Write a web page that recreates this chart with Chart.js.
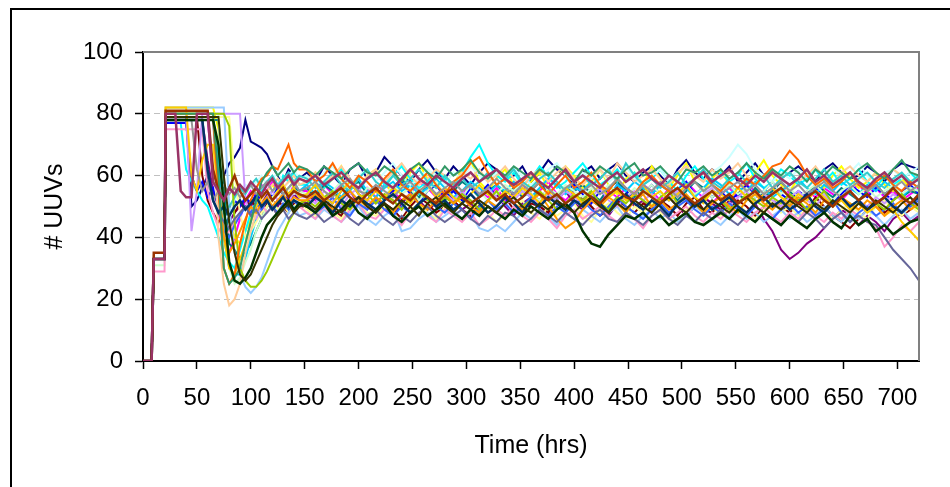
<!DOCTYPE html>
<html>
<head>
<meta charset="utf-8">
<title># UUVs over time</title>
<script src="https://cdn.jsdelivr.net/npm/chart.js@4.4.0/dist/chart.umd.min.js"></script>
<style>
  html, body { margin: 0; padding: 0; background: #fff; }
  #chart { display: block; }
</style>
</head>
<body>
<canvas id="chart" width="950" height="487"></canvas>
<script>
// sample times (hrs)
const hours = [
  0, 8, 9, 10, 20, 21, 25, 30, 35, 40, 45, 50, 55, 60, 65, 70, 75, 80, 85, 90, 95,
  100, 105, 110, 115, 120, 125, 130, 135, 140, 145,
  152, 160, 168, 176, 184, 192, 200, 208, 216, 224, 232, 240, 248, 256, 264, 272,
  280, 288, 296, 304, 312, 320, 328, 336, 344, 352, 360, 368, 376, 384, 392, 400,
  408, 416, 424, 432, 440, 448, 456, 464, 472, 480, 488, 496, 504, 512, 520, 528,
  536, 544, 552, 560, 568, 576, 584, 592, 600, 608, 616, 624, 632, 640, 648, 656,
  664, 672, 680, 688, 696, 704, 712, 720
];

const xTicks = [0, 50, 100, 150, 200, 250, 300, 350, 400, 450, 500, 550, 600, 650, 700];
const yTicks = [0, 20, 40, 60, 80, 100];

// one array per simulation run
const run01 = [0,0,17,33,33,79,79,79,79,79,50,52,56,60,58,62,60,64,66,69,78,71,70,69,67,63,60,58,62,60,59,
  61,58,63,60,57,62,64,59, 61,66,63,60,58,62,65,61, 59,63,60,57,61,64,62,59, 60,63,58,61,65,62,60,57,
  61,63,59,62,64,60,58,61, 63,60,57,62,65,61,59,62, 60,63,58,61,64,60,62,59, 61,63,60,58,62,64,61,59,
  60,63,61,58,62,64,63,62];
const run02 = [0,0,17,33,33,78,78,78,78,78,78,78,78,78,60,48,40,35,40,46,52,55,53,57,55,58,54,56,53,57,55,
  55,52,57,54,58,55,51,56, 53,57,55,52,54,58,56,53, 55,51,54,57,55,53,56,52, 54,57,53,55,58,54,52,55,
  57,54,51,55,53,56,54,57, 55,52,56,54,58,55,53,51, 54,56,53,57,55,52,55,58, 54,51,55,53,56,54,52,55,
  57,54,56,53,55,52,54,56];
const run03 = [0,0,17,33,33,82,82,82,82,82,82,82,82,82,82,75,55,45,40,38,42,46,50,53,55,57,54,58,60,56,59,
  58,61,56,59,63,57,55,60, 62,58,54,57,61,64,59,56, 60,57,62,65,58,55,59,62, 57,54,58,61,56,59,63,60,
  56,58,62,57,54,59,61,57, 63,59,56,60,64,58,55,59, 62,57,54,58,61,65,60,57, 55,59,62,58,56,60,63,59,
  56,58,61,57,55,59,56,54];
const run04 = [0,0,17,33,33,77,77,77,77,62,58,55,52,50,45,40,35,32,30,36,42,48,52,55,57,59,56,60,58,61,57,
  57,60,56,59,62,58,55,59, 61,57,60,63,59,56,58,62, 59,57,61,66,70,64,60,58, 61,57,59,63,60,56,58,61,
  64,60,57,59,62,58,61,57, 59,62,58,55,60,63,59,57, 61,58,60,64,59,56,58,62, 60,57,59,62,58,61,57,59,
  62,58,56,60,57,59,61,58];
const run05 = [0,0,17,33,33,78,78,78,78,78,78,78,78,65,55,50,47,45,48,50,52,50,53,51,54,52,50,53,51,54,52,
  51,54,50,48,52,55,51,49, 53,50,47,51,54,52,49,51, 55,52,49,51,48,52,54,50, 47,51,53,50,48,52,55,51,
  49,52,50,47,51,54,50,52, 48,51,53,50,47,50,53,51, 49,52,50,48,51,46,42,36, 33,35,38,40,43,46,49,47,
  44,47,45,42,46,48,45,47];
const run06 = [0,0,17,33,33,79,79,79,79,79,79,79,60,52,48,45,47,50,48,51,49,52,50,48,51,49,52,50,48,51,50,
  50,48,52,49,47,51,53,50, 48,51,49,46,50,53,51,48, 50,52,49,47,51,48,50,53, 49,47,51,50,48,52,49,51,
  53,50,47,49,52,50,48,51, 49,52,50,47,51,53,49,48, 51,49,52,50,47,49,52,50, 48,51,49,53,50,47,45,43,
  46,49,51,48,50,47,49,51];
const run07 = [0,0,17,33,33,78,78,78,78,78,78,78,78,78,78,78,55,38,36,33,35,38,42,46,50,53,55,57,54,56,55,
  56,53,57,55,52,56,58,54, 55,52,56,59,55,53,57,54, 52,55,58,56,53,55,57,54, 56,53,55,58,54,52,56,55,
  57,54,52,56,58,55,53,56, 54,57,55,52,55,58,56,53, 55,57,54,52,56,53,55,58, 55,52,54,57,55,53,56,54,
  52,55,57,54,56,53,55,54];
const run08 = [0,0,17,33,33,77,77,77,77,77,60,55,58,53,56,50,45,48,52,50,53,51,54,52,55,53,56,54,52,55,53,
  54,57,53,51,55,58,54,52, 56,53,55,58,54,51,55,57, 53,55,52,56,54,57,53,51, 55,58,54,52,56,53,55,57,
  54,51,55,53,57,55,52,54, 57,54,52,55,58,54,56,53, 55,52,54,57,53,55,58,54, 52,55,53,56,54,51,54,57,
  55,53,56,54,52,55,57,54];
const run09 = [0,0,17,33,33,78,78,78,78,78,78,78,78,78,78,65,40,30,28,28,33,40,46,50,53,55,57,54,56,58,55,
  57,54,58,56,53,57,59,55, 53,56,58,55,57,54,56,59, 56,53,55,58,56,54,57,55, 58,55,53,56,59,57,54,56,
  55,58,56,53,57,55,58,56, 54,57,55,58,56,53,56,59, 57,54,56,55,58,56,53,55, 57,59,56,54,57,55,58,56,
  54,57,55,58,56,53,56,55];
const run10 = [0,0,17,33,33,80,80,80,80,80,80,80,80,80,60,50,45,48,52,55,57,56,58,60,57,59,61,58,60,62,59,
  60,58,61,63,59,57,60,62, 58,61,64,60,57,59,62,60, 57,61,59,63,60,58,61,59, 62,60,57,59,62,64,60,58,
  61,59,62,58,60,63,59,57, 60,62,58,61,63,60,58,61, 63,66,70,67,62,60,58,61, 59,62,60,57,60,63,59,61,
  64,60,58,61,62,59,61,63];
const run11 = [0,0,17,31,31,80,80,80,80,80,80,80,80,80,80,80,45,30,25,27,32,36,42,46,50,53,55,52,56,54,55,
  54,57,53,55,58,55,52,56, 55,53,57,54,56,52,55,58, 54,56,53,57,55,52,54,57, 55,58,54,52,56,54,57,55,
  53,56,54,57,55,53,56,54, 57,54,52,55,57,54,56,53, 55,57,54,56,53,55,58,54, 56,53,55,57,54,52,55,57,
  54,56,53,55,57,54,56,55];
const run12 = [0,0,17,33,33,79,79,79,79,79,79,79,79,79,79,79,79,79,60,48,40,42,45,48,50,52,49,51,48,50,52,
  49,47,51,48,46,50,52,48, 47,50,48,45,49,51,48,46, 50,48,46,49,51,48,45,47, 49,52,48,46,50,47,49,51,
  47,45,49,51,48,46,50,48, 51,48,46,45,49,51,48,50, 47,49,51,48,46,49,52,48, 50,47,49,52,48,46,49,51,
  48,46,50,52,49,47,50,48];
const run13 = [0,0,17,33,33,82,82,82,82,82,82,82,82,82,82,82,82,50,35,28,24,22,24,27,32,37,42,45,48,50,47,
  48,46,49,47,45,48,50,46, 44,47,49,42,43,46,48,45, 47,49,46,48,43,42,44,42, 45,48,46,49,47,44,48,46,
  49,47,45,48,50,46,44,47, 49,46,48,45,47,50,48,46, 44,47,49,46,48,45,47,49, 46,48,45,47,50,47,45,48,
  46,49,47,44,47,49,46,48];
const run14 = [0,0,17,29,29,75,75,75,75,75,75,75,75,55,48,43,40,42,45,48,50,47,49,51,48,50,47,49,51,48,50,
  48,46,50,47,45,49,51,47, 46,49,47,44,48,50,47,45, 49,47,45,48,44,46,49,47, 50,47,45,48,46,43,47,49,
  46,48,50,47,45,48,46,43, 47,49,46,48,50,47,45,48, 46,49,47,45,48,50,47,45, 48,46,49,47,45,48,46,49,
  47,45,43,37,40,44,42,45];
const run15 = [0,0,17,33,33,80,80,80,80,80,42,55,80,80,80,80,80,80,80,80,52,48,46,50,53,55,52,54,51,55,53,
  53,51,55,52,50,54,56,52, 51,54,52,49,53,55,52,50, 54,52,55,51,53,56,53,51, 52,55,53,50,54,52,55,53,
  51,53,56,52,50,53,55,52, 54,51,53,55,52,50,54,56, 52,50,53,55,51,54,52,50, 53,55,52,50,54,51,53,55,
  52,50,53,51,54,52,50,53];
const run16 = [0,0,17,33,33,79,79,79,79,79,79,79,79,79,79,40,25,18,20,25,35,42,48,52,55,57,59,56,58,60,57,
  58,61,57,60,63,59,56,60, 62,58,61,64,60,57,59,62, 60,57,61,59,62,58,60,63, 59,56,60,62,58,61,63,59,
  57,60,62,59,64,61,58,60, 62,59,57,61,63,60,58,62, 59,61,64,60,57,60,62,59, 61,58,60,63,59,57,61,63,
  60,58,61,59,62,60,57,60];
const run17 = [0,0,17,33,33,78,78,78,78,78,78,78,78,78,78,55,42,40,44,47,50,48,51,49,52,50,48,51,49,52,50,
  51,48,50,53,49,47,51,49, 52,49,47,50,48,51,53,50, 48,51,49,46,50,52,49,51, 48,50,53,49,47,50,48,51,
  52,49,47,50,53,50,48,46, 49,51,48,50,52,49,47,50, 48,51,49,47,50,48,46,49, 51,48,50,47,49,52,48,45,
  48,50,47,49,51,48,50,52];
const run18 = [0,0,17,33,33,80,80,80,80,80,80,80,80,80,80,55,48,50,53,56,54,57,59,56,58,60,57,59,61,58,60,
  59,56,58,61,57,55,59,62, 58,56,60,57,59,62,58,56, 60,57,59,56,58,61,57,59, 62,58,56,59,61,58,55,58,
  60,57,59,62,58,64,60,57, 59,56,58,61,57,59,62,58, 56,59,61,58,57,60,56,59, 61,58,56,59,62,58,60,57,
  59,61,58,56,59,61,58,60];
const run19 = [0,0,17,33,33,80,80,80,80,80,80,80,80,80,80,80,80,76,45,30,26,24,24,26,29,33,37,41,45,48,51,
  52,50,53,55,51,49,53,54, 51,54,52,49,53,55,52,50, 53,51,54,52,49,52,55,51, 53,50,52,55,52,49,51,54,
  52,55,51,49,53,51,54,52, 50,53,55,51,53,50,52,55, 52,49,51,54,52,50,53,51, 54,52,49,52,55,51,53,50,
  52,54,51,49,52,54,51,49];
const run20 = [0,0,17,33,33,82,82,82,82,82,60,55,65,70,70,55,40,30,28,33,38,45,50,53,55,52,55,57,54,56,53,
  54,57,53,51,55,58,54,52, 55,53,56,54,51,55,57,53, 56,53,51,54,57,54,52,55, 53,56,54,51,55,53,56,54,
  51,54,57,53,55,52,54,57, 53,55,52,54,57,53,51,55, 54,52,56,53,51,54,56,53, 51,54,52,55,53,50,52,49,
  51,48,50,47,49,45,42,39];
const run21 = [0,0,17,33,33,80,80,80,80,80,80,80,80,80,80,58,40,35,38,42,46,50,48,51,53,50,52,54,51,53,52,
  52,54,51,49,53,55,52,50, 53,51,48,52,54,51,49,52, 54,51,53,50,48,52,50,53, 51,49,52,54,50,46,43,45,
  49,52,50,53,51,48,52,54, 50,52,49,51,54,51,48,51, 53,50,48,52,54,51,49,52, 50,53,51,48,52,50,53,51,
  49,52,50,47,50,52,49,51];
const run22 = [0,0,17,33,33,79,79,79,79,79,79,79,79,79,79,55,30,25,28,38,45,52,56,59,60,63,62,66,70,64,62,
  62,58,60,64,59,56,60,58, 55,59,62,57,55,58,61,57, 54,58,60,64,66,61,57,59, 56,58,61,57,54,57,60,56,
  58,61,57,55,59,56,54,58, 60,57,55,58,56,59,61,57, 55,58,56,59,57,60,63,64, 68,65,60,57,59,56,58,61,
  57,55,58,60,57,55,58,56];
const run23 = [0,0,17,33,33,78,78,78,78,78,78,78,78,60,52,48,45,43,46,48,50,47,49,46,48,50,47,49,46,48,47,
  46,48,45,47,49,46,44,47, 49,46,44,47,45,48,50,47, 45,47,49,46,44,47,45,48, 47,44,46,49,47,45,48,46,
  44,47,49,46,45,48,46,44, 47,49,46,44,47,45,48,46, 49,46,44,47,45,48,46,44, 47,45,48,46,43,46,48,45,
  47,45,44,40,36,33,30,26];
const run24 = [0,0,17,33,33,78,78,78,78,78,78,62,55,58,52,55,57,54,56,53,55,57,54,56,58,55,57,54,56,58,55,
  56,58,55,53,57,59,55,54, 57,55,53,56,58,55,57,54, 56,58,55,57,54,56,59,56, 54,57,55,58,56,53,56,58,
  55,57,54,56,59,56,54,57, 55,58,56,53,56,58,55,57, 54,56,58,55,57,54,56,58, 55,57,54,56,58,55,53,56,
  58,55,57,54,56,58,55,57];
const run25 = [0,0,17,33,33,78,78,78,78,78,78,78,78,62,52,48,50,47,50,52,49,51,53,50,52,49,51,53,50,52,51,
  50,53,51,48,52,50,53,51, 49,52,54,51,48,51,53,50, 52,49,51,54,51,48,50,53, 51,48,52,50,53,51,49,52,
  50,53,51,48,52,54,51,49, 52,50,47,51,53,50,52,49, 51,53,50,48,51,53,50,52, 49,51,54,50,48,51,53,50,
  52,49,51,53,50,48,51,53];
const run26 = [0,0,17,33,33,80,80,80,80,80,80,80,80,80,80,60,30,25,27,30,38,45,52,58,61,63,60,62,64,61,63,
  62,60,63,61,59,62,64,61, 60,63,61,58,62,64,61,59, 63,60,62,65,61,59,62,60, 63,61,59,62,60,63,61,58,
  62,60,63,61,59,62,64,60, 61,63,60,58,62,61,63,60, 62,59,61,64,61,59,62,60, 63,61,58,62,60,63,61,59,
  62,64,61,59,62,65,61,60];
const run27 = [0,0,17,33,33,78,78,78,78,78,78,78,78,78,78,70,50,32,26,25,27,30,35,40,44,46,48,50,52,49,51,
  50,48,51,47,49,52,48,46, 49,51,47,45,48,50,47,49, 51,48,46,49,47,50,48,46, 49,47,50,48,46,49,51,48,
  42,38,37,41,44,47,46,48, 45,47,44,46,48,45,44,46, 48,46,49,47,45,48,46,44, 47,45,43,46,48,45,43,47,
  44,46,42,44,41,43,45,46];
const run28 = [0,0,17,33,33,79,79,79,79,79,79,79,79,79,79,79,60,45,35,28,26,28,32,36,40,44,47,49,51,48,50,
  51,49,52,50,48,51,53,50, 48,51,49,52,50,47,51,53, 50,48,51,49,52,50,48,51, 53,50,48,51,49,52,50,48,
  51,53,50,48,51,49,52,50, 48,51,53,50,48,51,49,52, 50,48,51,53,50,48,51,49, 52,50,48,51,49,52,50,48,
  51,49,52,50,48,51,53,50];
const run29 = [0,0,17,35,35,81,81,81,81,81,81,81,81,81,62,55,52,56,60,55,52,54,56,53,55,52,54,56,53,55,54,
  53,55,52,54,56,53,51,54, 56,53,51,54,52,55,53,51, 54,56,53,51,53,55,52,54, 51,53,56,54,52,54,51,53,
  55,53,51,54,56,53,52,55, 53,51,54,56,53,51,53,55, 52,54,51,53,55,52,54,56, 53,51,53,55,52,50,53,55,
  52,54,51,53,56,53,51,54];
const run30 = [0,0,17,33,33,80,80,80,55,53,53,80,80,80,58,55,52,56,54,57,55,58,56,54,57,59,56,58,60,57,59,
  58,60,57,59,61,58,56,59, 61,58,56,59,62,59,57,60, 58,56,59,61,58,60,62,59, 57,59,61,58,56,59,62,58,
  60,58,56,59,61,58,60,62, 59,57,60,58,56,59,61,58, 60,62,59,57,60,58,61,59, 57,59,62,58,60,57,59,61,
  58,56,59,61,58,60,57,59];

const runs = [run01, run02, run03, run04, run05, run06, run07, run08, run09, run10,
  run11, run12, run13, run14, run15, run16, run17, run18, run19, run20,
  run21, run22, run23, run24, run25, run26, run27, run28, run29, run30];

// Excel default line colours, in series order
const runColors = [
  '#000080', '#FF00FF', '#FFFF00', '#00FFFF', '#800080', '#800000', '#008080', '#0000FF',
  '#00CCFF', '#CCFFFF', '#CCFFCC', '#FFFF99', '#99CCFF', '#FF99CC', '#CC99FF', '#FFCC99',
  '#3366FF', '#33CCCC', '#99CC00', '#FFCC00', '#FF9900', '#FF6600', '#666699', '#969696',
  '#003366', '#339966', '#003300', '#333300', '#993300', '#993366'
];
const heavyColors = ['#003366', '#003300', '#993300', '#993366'];

const font = 'Arial, "Liberation Sans", sans-serif';

const datasets = runs.map((vals, i) => ({
  label: 'Run ' + (i + 1),
  data: vals.map((v, j) => ({ x: hours[j], y: v })),
  borderColor: runColors[i],
  borderWidth: heavyColors.includes(runColors[i]) ? 2.5 : 2,
  pointRadius: 0,
  tension: 0,
  fill: false,
  order: runs.length - 1 - i   // later series drawn on top, like Excel
}));

const framePlugin = {
  id: 'frame',
  beforeDraw(chart) {
    const ctx = chart.ctx;
    ctx.save();
    ctx.fillStyle = '#fff';
    ctx.fillRect(0, 0, chart.width, chart.height);
    ctx.strokeStyle = '#000';
    ctx.lineWidth = 2;
    ctx.beginPath();
    ctx.moveTo(11, chart.height);
    ctx.lineTo(11, 9);
    ctx.lineTo(chart.width, 9);
    ctx.stroke();
    ctx.restore();
  },
  afterDraw(chart) {
    const { ctx, chartArea: a } = chart;
    ctx.save();
    ctx.strokeStyle = '#808080';
    ctx.lineWidth = 2;
    ctx.beginPath();
    ctx.moveTo(a.left, a.top);
    ctx.lineTo(a.right, a.top);
    ctx.lineTo(a.right, a.bottom);
    ctx.stroke();
    ctx.restore();
  }
};

new Chart(document.getElementById('chart'), {
  type: 'line',
  data: { datasets },
  plugins: [framePlugin],
  options: {
    responsive: false,
    animation: false,
    devicePixelRatio: 1,
    layout: { padding: { left: 0, right: 31, top: 52, bottom: 0 } },
    plugins: { legend: { display: false }, tooltip: { enabled: false } },
    scales: {
      x: {
        type: 'linear',
        min: 0,
        max: 720,
        afterBuildTicks: (s) => { s.ticks = xTicks.map(v => ({ value: v })); },
        afterFit: (s) => { s.height = 126; },
        ticks: { font: { family: font, size: 24 }, color: '#000', padding: 15, maxRotation: 0, autoSkip: false },
        grid: { drawOnChartArea: false, drawTicks: true, tickLength: 8, tickColor: '#000', tickWidth: 1.5, tickBorderDash: [] },
        border: { color: '#000', width: 2 },
        title: {
          display: true,
          text: 'Time (hrs)',
          color: '#000',
          font: { family: font, size: 25 },
          padding: { top: 0, bottom: 26 }
        }
      },
      y: {
        min: 0,
        max: 100,
        afterBuildTicks: (s) => { s.ticks = yTicks.map(v => ({ value: v })); },
        afterFit: (s) => { s.width = 143; },
        ticks: { font: { family: font, size: 24 }, color: '#000', padding: 12 },
        grid: {
          color: (c) => (c.tick && (c.tick.value === 0 || c.tick.value === 100)) ? 'rgba(0,0,0,0)' : '#C0C0C0',
          lineWidth: 1,
          tickLength: 8,
          tickColor: '#000',
          tickWidth: 1.5,
          tickBorderDash: []
        },
        border: { color: '#000', width: 2, dash: [6, 4] },
        title: {
          display: true,
          text: '# UUVs',
          color: '#000',
          font: { family: font, size: 25 },
          padding: { top: 40, bottom: 0 }
        }
      }
    }
  }
});
</script>
</body>
</html>
